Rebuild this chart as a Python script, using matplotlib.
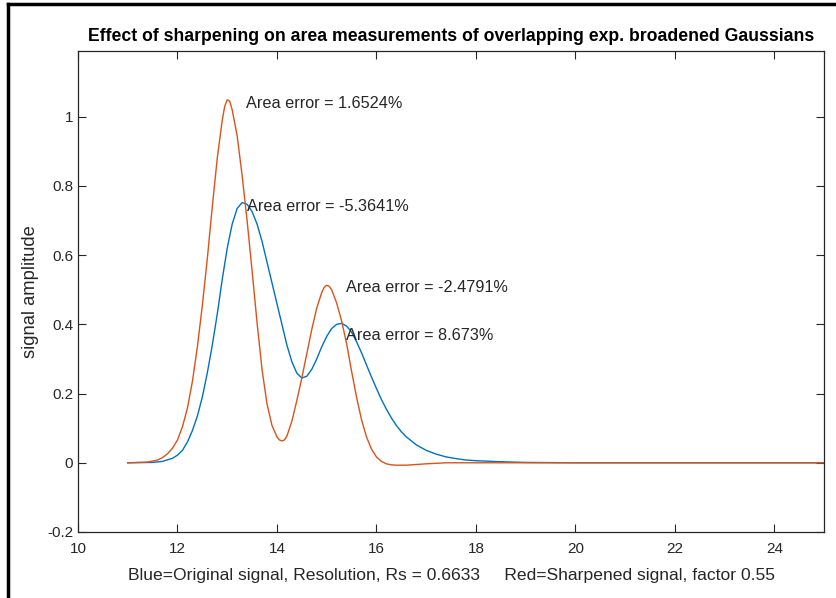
import numpy as np
import matplotlib
matplotlib.use("Agg")
import matplotlib.pyplot as plt
from matplotlib.lines import Line2D
from matplotlib.ticker import FuncFormatter

plt.rcParams['font.family'] = ['Liberation Sans', 'DejaVu Sans']

# original signal (blue)
x_orig = [11.0, 11.5, 11.7, 11.9, 12.0, 12.1, 12.2, 12.3, 12.4, 12.5, 12.6, 12.7,
          12.8, 12.9, 13.0, 13.1, 13.2, 13.3, 13.4, 13.5, 13.6, 13.7, 13.8, 13.9,
          14.0, 14.1, 14.2, 14.3, 14.4, 14.5, 14.6, 14.7, 14.8, 14.9, 15.0, 15.1,
          15.2, 15.3, 15.4, 15.5, 15.6, 15.7, 15.8, 15.9, 16.0, 16.1, 16.2, 16.3,
          16.4, 16.5, 16.6, 16.8, 17.0, 17.2, 17.4, 17.6, 17.8, 18.0, 18.5, 19.0,
          19.5, 20.0, 22.0, 25.0]
y_orig = [0.000, 0.001, 0.004, 0.013, 0.022, 0.036, 0.060, 0.093, 0.135, 0.190,
          0.260, 0.340, 0.430, 0.530, 0.620, 0.690, 0.735, 0.752, 0.747, 0.726,
          0.690, 0.640, 0.580, 0.520, 0.460, 0.400, 0.340, 0.292, 0.259, 0.245,
          0.250, 0.270, 0.300, 0.335, 0.365, 0.388, 0.400, 0.403, 0.395, 0.378,
          0.350, 0.318, 0.283, 0.248, 0.215, 0.183, 0.155, 0.130, 0.108, 0.090,
          0.075, 0.052, 0.036, 0.025, 0.017, 0.012, 0.008, 0.006, 0.003, 0.001,
          0.0005, 0.0, 0.0, 0.0]

# sharpened signal (red)
x_sharp = [11.0, 11.4, 11.6, 11.7, 11.8, 11.9, 12.0, 12.1, 12.2, 12.3, 12.4, 12.5,
           12.6, 12.7, 12.8, 12.9, 12.95, 13.0, 13.05, 13.1, 13.2, 13.3, 13.4, 13.5,
           13.6, 13.7, 13.8, 13.9, 14.0, 14.05, 14.1, 14.15, 14.2, 14.3, 14.4, 14.5,
           14.6, 14.7, 14.8, 14.9, 14.95, 15.0, 15.05, 15.1, 15.2, 15.3, 15.4, 15.5,
           15.6, 15.7, 15.8, 15.9, 16.0, 16.1, 16.2, 16.3, 16.4, 16.6, 16.8, 17.0,
           17.4, 18.0, 20.0, 25.0]
y_sharp = [0.000, 0.002, 0.008, 0.015, 0.026, 0.042, 0.066, 0.104, 0.158, 0.235,
           0.335, 0.455, 0.590, 0.740, 0.880, 0.990, 1.030, 1.049, 1.045, 1.020,
           0.945, 0.830, 0.700, 0.555, 0.405, 0.270, 0.170, 0.108, 0.075, 0.066,
           0.063, 0.066, 0.077, 0.120, 0.180, 0.245, 0.315, 0.385, 0.447, 0.492,
           0.507, 0.513, 0.510, 0.500, 0.462, 0.410, 0.345, 0.265, 0.190, 0.125,
           0.075, 0.040, 0.017, 0.004, -0.003, -0.006, -0.007, -0.007, -0.005,
           -0.003, 0.0, 0.0, 0.0, 0.0]

# area error labels
label_x = [13.37, 13.39, 15.38, 15.38]
label_y = [1.037, 0.741, 0.507, 0.369]
label_txt = ['Area error = 1.6524%', 'Area error = -5.3641%',
             'Area error = -2.4791%', 'Area error = 8.673%']

fig = plt.figure(figsize=(8.37, 5.98), dpi=100)
ax = fig.add_axes([0.0932, 0.1104, 0.8913, 0.8043])

ax.plot(x_orig, y_orig, color='#0072BD', lw=1.0)
ax.plot(x_sharp, y_sharp, color='#D95319', lw=1.0)

for tx, ty, t in zip(label_x, label_y, label_txt):
    ax.text(tx, ty, t, fontsize=11.7, va='center', ha='left', color='#262626')

ax.set_xlim(10, 25)
ax.set_ylim(-0.2, 1.19)
ax.set_xticks(np.arange(10, 25, 2))
ax.set_yticks([-0.2, 0, 0.2, 0.4, 0.6, 0.8, 1.0])
ax.yaxis.set_major_formatter(FuncFormatter(lambda v, p: '{:g}'.format(round(v, 2))))
ax.tick_params(direction='in', top=True, right=True, labelsize=11,
               colors='#262626', length=6, width=0.8)
ax.tick_params(axis='x', pad=7.5)
for s in ax.spines.values():
    s.set_color('#262626')
    s.set_linewidth(0.9)

ax.set_title('Effect of sharpening on area measurements of overlapping exp. broadened Gaussians',
             fontsize=12.7, fontweight='bold', pad=7)
ax.set_xlabel('Blue=Original signal, Resolution, Rs = 0.6633     Red=Sharpened signal, factor 0.55',
              fontsize=12.6, color='#262626', labelpad=8)
ax.set_ylabel('signal amplitude', fontsize=13.2, color='#262626', labelpad=6)

# screenshot frame on left and top
fig.add_artist(Line2D([0.0095, 0.0095], [0, 0.994], transform=fig.transFigure, color='black', lw=2.5))
fig.add_artist(Line2D([0.0095, 1.0], [0.994, 0.994], transform=fig.transFigure, color='black', lw=2.5))

fig.savefig('out.png', dpi=100)
